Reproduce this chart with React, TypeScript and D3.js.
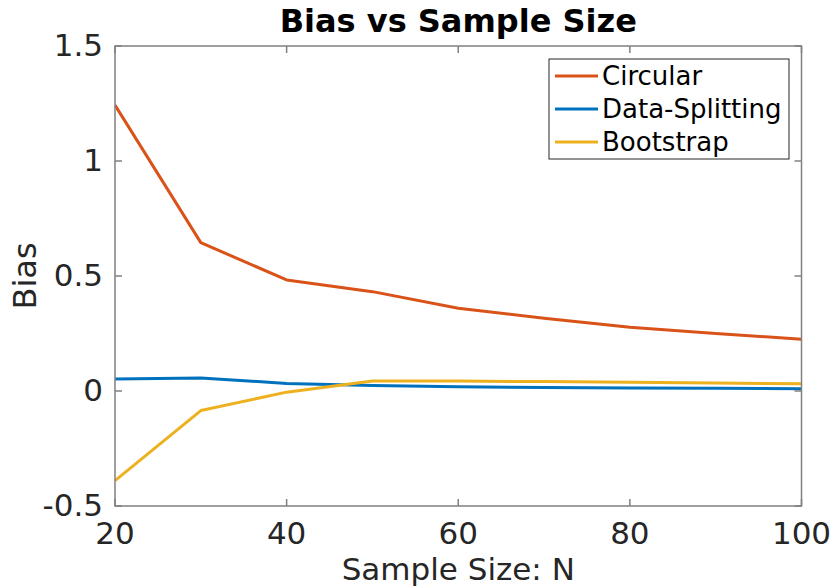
import React from "react";
import * as d3 from "d3";

const sampleSizes = [20, 30, 40, 50, 60, 70, 80, 90, 100];
const circular = [1.243, 0.645, 0.483, 0.432, 0.36, 0.316, 0.277, 0.25, 0.225];
const dataSplitting = [0.052, 0.057, 0.033, 0.024, 0.019, 0.015, 0.013, 0.012, 0.01];
const bootstrap = [-0.39, -0.085, -0.005, 0.043, 0.043, 0.041, 0.038, 0.035, 0.031];

const xTicks = [20, 40, 60, 80, 100];
const yTicks = [-0.5, 0, 0.5, 1, 1.5];
const yTickLabels = ["-0.5", "0", "0.5", "1", "1.5"];

const seriesNames = ["Circular", "Data-Splitting", "Bootstrap"];
const seriesColors = ["#D95319", "#0072BD", "#EDB120"];

const W = 832;
const H = 588;
const left = 115;
const right = 801.5;
const top = 46;
const bottom = 506;

export default function App() {
  const x = d3.scaleLinear().domain([20, 100]).range([left, right]);
  const y = d3.scaleLinear().domain([-0.5, 1.5]).range([bottom, top]);
  const line = d3
    .line<number>()
    .x((_, i) => x(sampleSizes[i]))
    .y((d) => y(d));
  const series = [circular, dataSplitting, bootstrap];
  const axisColor = "#808080";
  const textColor = "#262626";
  const font = "DejaVu Sans, sans-serif";
  const tickLen = 7;

  return (
    <svg
      width={W}
      height={H}
      style={{ position: "absolute", left: 0, top: 0, background: "#fff" }}
      fontFamily={font}
    >
      <rect x={0} y={0} width={W} height={H} fill="#fff" />
      <text
        x={(left + right) / 2}
        y={32}
        textAnchor="middle"
        fontSize={32}
        fontWeight="bold"
        fill="#000"
      >
        Bias vs Sample Size
      </text>

      <defs>
        <clipPath id="plotClip">
          <rect x={left} y={top} width={right - left} height={bottom - top} />
        </clipPath>
      </defs>
      <g clipPath="url(#plotClip)">
        {series.map((s, i) => (
          <path
            key={seriesNames[i]}
            d={line(s) || ""}
            fill="none"
            stroke={seriesColors[i]}
            strokeWidth={3}
            strokeLinejoin="round"
          />
        ))}
      </g>

      {/* axes box with ticks on all four sides */}
      <rect
        x={left}
        y={top}
        width={right - left}
        height={bottom - top}
        fill="none"
        stroke={axisColor}
        strokeWidth={1.5}
      />
      {xTicks.map((t) => (
        <g key={"x" + t}>
          <line x1={x(t)} x2={x(t)} y1={bottom} y2={bottom - tickLen} stroke={axisColor} strokeWidth={1.5} />
          <line x1={x(t)} x2={x(t)} y1={top} y2={top + tickLen} stroke={axisColor} strokeWidth={1.5} />
          <text x={x(t)} y={bottom + 38} textAnchor="middle" fontSize={31} fill={textColor}>
            {t}
          </text>
        </g>
      ))}
      {yTicks.map((t, i) => (
        <g key={"y" + t}>
          <line x1={left} x2={left + tickLen} y1={y(t)} y2={y(t)} stroke={axisColor} strokeWidth={1.5} />
          <line x1={right} x2={right - tickLen} y1={y(t)} y2={y(t)} stroke={axisColor} strokeWidth={1.5} />
          <text x={left - 12} y={y(t) + 10} textAnchor="end" fontSize={31} fill={textColor}>
            {yTickLabels[i]}
          </text>
        </g>
      ))}

      <text x={(left + right) / 2} y={580} textAnchor="middle" fontSize={31} fill={textColor}>
        Sample Size: N
      </text>
      <text
        transform={`translate(36, ${(top + bottom) / 2}) rotate(-90)`}
        textAnchor="middle"
        fontSize={32}
        fill={textColor}
      >
        Bias
      </text>

      {/* legend */}
      <rect x={549} y={59} width={240} height={100} fill="#fff" stroke={textColor} strokeWidth={1} />
      {seriesNames.map((n, i) => (
        <g key={"l" + n}>
          <line
            x1={555}
            x2={598}
            y1={76 + i * 33}
            y2={76 + i * 33}
            stroke={seriesColors[i]}
            strokeWidth={3}
          />
          <text x={602} y={85 + i * 33} fontSize={26} fill="#000">
            {n}
          </text>
        </g>
      ))}
    </svg>
  );
}
